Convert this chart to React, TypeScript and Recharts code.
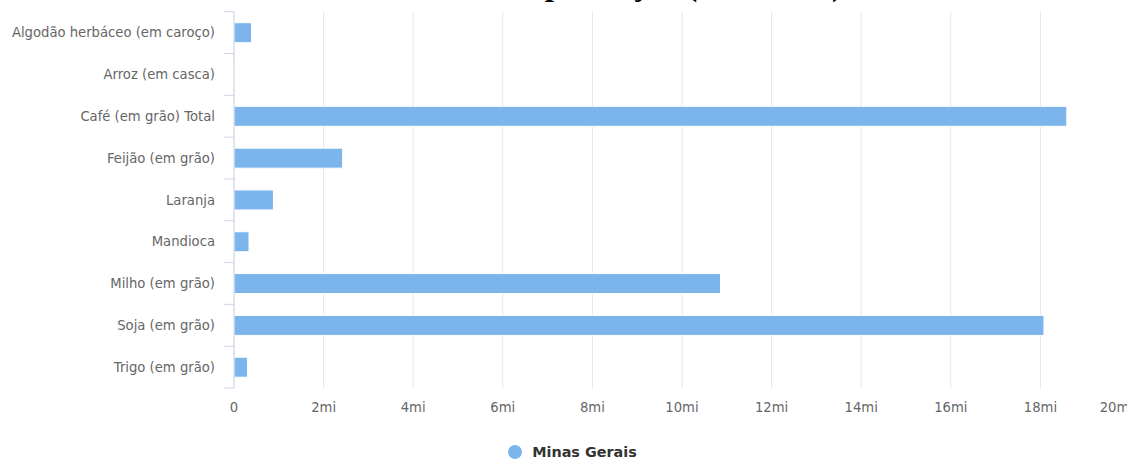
import React from 'react';
import { BarChart, Bar, XAxis, YAxis, CartesianGrid, Legend, Customized } from 'recharts';

// Valor da produção agrícola em Minas Gerais, por produto (Mil Reais)
const categories: string[] = [
  'Algodão herbáceo (em caroço)',
  'Arroz (em casca)',
  'Café (em grão) Total',
  'Feijão (em grão)',
  'Laranja',
  'Mandioca',
  'Milho (em grão)',
  'Soja (em grão)',
  'Trigo (em grão)',
];
const minasGerais: number[] = [392000, 3500, 18590000, 2425000, 880000, 335000, 10860000, 18080000, 300000];
const xTicks: number[] = [0, 2000000, 4000000, 6000000, 8000000, 10000000, 12000000, 14000000, 16000000, 18000000, 20000000];
const seriesName = 'Minas Gerais';
const chartTitle = 'Valor da produção (Mil Reais)';

const data = categories.map((name, i) => ({ name, value: minasGerais[i] }));

const BAR_COLOR = '#7cb5ec';
const AXIS_COLOR = '#ccd6eb';
const LABEL_FONT = '"DejaVu Sans", sans-serif';
const Y_TICK_SIZE = 10;
const Y_TICK_MARGIN = 9;
// right edge that value labels are kept inside of
const LABEL_RIGHT_EDGE = 1133;

const formatValue = (v: number) => (v === 0 ? '0' : `${v / 1000000}mi`);

// Category labels with tick marks drawn on the band boundaries
const CategoryTick = (props: any) => {
  const { x, y, payload, index, visibleTicksCount, height } = props;
  const count = visibleTicksCount || categories.length;
  const half = payload && payload.offset ? payload.offset : height / count / 2;
  const axisX = x + Y_TICK_SIZE + Y_TICK_MARGIN;
  const isLast = index === count - 1;
  return (
    <g>
      <line x1={axisX - Y_TICK_SIZE} x2={axisX} y1={y - half} y2={y - half} stroke={AXIS_COLOR} strokeWidth={1} />
      {isLast && (
        <line x1={axisX - Y_TICK_SIZE} x2={axisX} y1={y + half} y2={y + half} stroke={AXIS_COLOR} strokeWidth={1} />
      )}
      <text x={x} y={y} dy="0.355em" textAnchor="end" fill="#666666" fontSize={13.2} fontFamily={LABEL_FONT}>
        {payload.value}
      </text>
    </g>
  );
};

// Value labels; the last one is justified so it ends at the chart edge
const ValueTick = (props: any) => {
  const { x, y, payload, index } = props;
  const isLast = index === xTicks.length - 1;
  return (
    <text
      x={isLast ? LABEL_RIGHT_EDGE : x}
      y={y}
      dy="0.71em"
      textAnchor={isLast ? 'end' : 'middle'}
      fill="#666666"
      fontSize={13.2}
      fontFamily={LABEL_FONT}
    >
      {formatValue(payload.value)}
    </text>
  );
};

const LegendContent = () => (
  <div
    style={{
      display: 'flex',
      justifyContent: 'center',
      alignItems: 'center',
      height: 20,
      fontFamily: LABEL_FONT,
      fontSize: 14.4,
      fontWeight: 'bold',
      color: '#333333',
    }}
  >
    <svg width={14} height={14} style={{ display: 'block' }}>
      <circle cx={7} cy={7} r={7} fill={BAR_COLOR} />
    </svg>
    <span style={{ marginLeft: 10 }}>{seriesName}</span>
  </div>
);

const Title = () => (
  <text
    x={843}
    y={34.5}
    textAnchor="end"
    fontFamily='"Liberation Serif", "Times New Roman", serif'
    fontWeight="bold"
    fontSize={33}
    fill="#000000"
  >
    {chartTitle}
  </text>
);

export default function App() {
  return (
    <div style={{ position: 'fixed', left: 0, top: 0, width: 1127, height: 459, overflow: 'hidden', background: '#ffffff' }}>
      <div style={{ position: 'absolute', left: 0, top: -40 }}>
        <BarChart
          width={1160}
          height={510}
          data={data}
          layout="vertical"
          margin={{ top: 51.7, right: 30, bottom: 52, left: 0 }}
        >
          <Customized component={Title} />
          <CartesianGrid horizontal={false} vertical stroke="#e6e6e6" />
          <XAxis
            type="number"
            domain={[0, 20000000]}
            ticks={xTicks}
            interval={0}
            axisLine={false}
            tickLine={false}
            tickSize={0}
            tickMargin={15}
            height={30}
            tick={<ValueTick />}
          />
          <YAxis
            type="category"
            dataKey="name"
            width={234}
            interval={0}
            axisLine={{ stroke: AXIS_COLOR }}
            tickLine={false}
            tickSize={Y_TICK_SIZE}
            tickMargin={Y_TICK_MARGIN}
            tick={<CategoryTick />}
          />
          <Legend
            layout="horizontal"
            verticalAlign="middle"
            align="center"
            content={<LegendContent />}
            wrapperStyle={{ top: 481.7, left: 0, width: 1145 }}
          />
          <Bar
            dataKey="value"
            name={seriesName}
            fill={BAR_COLOR}
            stroke="#ffffff"
            strokeWidth={1}
            barSize={20}
            isAnimationActive={false}
          />
        </BarChart>
      </div>
    </div>
  );
}
